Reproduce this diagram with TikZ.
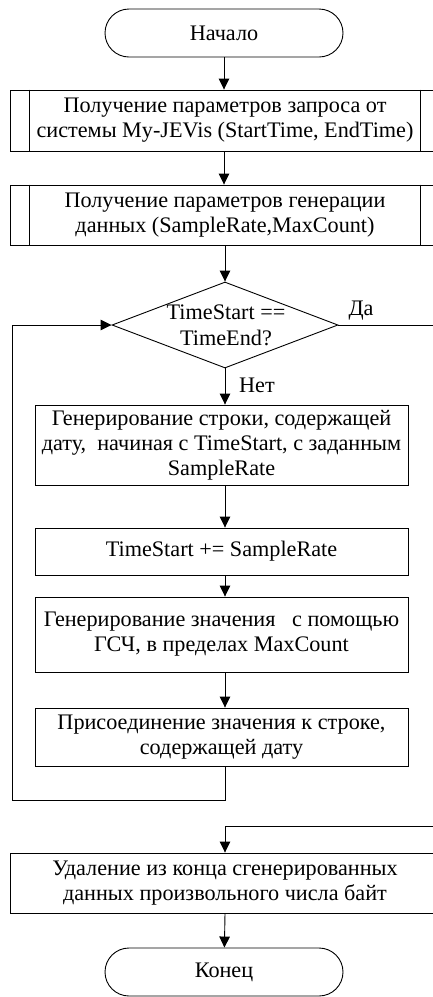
\documentclass[tikz,border=0pt]{standalone}
\usepackage{fontspec}
\setmainfont{Liberation Serif}
\usetikzlibrary{shapes.geometric, arrows.meta}

\begin{document}
\begin{tikzpicture}[x=1pt, y=-1pt, line width=0.9pt,
    font=\fontsize{22.2}{25}\selectfont,
    arr/.style={-{Triangle[length=11pt,width=10.5pt]}},
    term/.style={draw, rounded corners=24pt, minimum width=238pt, minimum height=48pt},
    proc/.style={draw, align=center, inner sep=0pt, minimum width=373pt},
    sub/.style={draw, align=center, inner sep=0pt, minimum width=430pt},
    cond/.style={draw, diamond, inner sep=0pt, minimum width=226pt, minimum height=86pt}]
\clip (0,0) rectangle (433,997);

% start and input
\node[term] (start) at (224,33) {Начало};
\node[sub, minimum height=61pt] (b1) at (225,120.5)
    {Получение параметров запроса от\\системы My-JEVis (StartTime, EndTime)};
\node[sub, minimum height=60pt] (b2) at (225,215)
    {Получение параметров генерации\\данных (SampleRate,MaxCount)};
\foreach \n in {b1,b2}
    \draw ([xshift=20pt]\n.north west) -- ([xshift=20pt]\n.south west)
          ([xshift=-20pt]\n.north east) -- ([xshift=-20pt]\n.south east);

% loop
\node[cond] (cmp) at (225,325) {};
\node[align=center] (cmptext) at (226,325.5) {TimeStart ==\\[1pt]TimeEnd?};
\node[proc, minimum height=80pt] (b3) at (221.5,445)
    {Генерирование строки, содержащей\\дату,\ \ начиная с TimeStart, с заданным\\SampleRate};
\node[proc, minimum height=47pt] (b4) at (221.5,551.5) {TimeStart += SampleRate};
\node[proc, minimum height=75pt] (b5) at (221.5,634.5)
    {Генерирование значения\ \ \ с помощью\\ГСЧ, в пределах MaxCount};
\node[proc, minimum height=58pt] (b6) at (221.5,737)
    {Присоединение значения к строке,\\содержащей дату};

% output
\node[sub, minimum height=60pt] (b7) at (225,883)
    {Удаление из конца сгенерированных\\данных произвольного числа байт};
\node[term] (stop) at (224,972) {Конец};

\node (yes) at (361,311) {Да};
\node (no) at (257,385) {Нет};
\coordinate (outyes) at (433,325);
\coordinate (inyes) at (433,826);
\coordinate (back) at (12,800);

\draw[arr] (start) -- (b1.north -| start);
\draw[arr] (b1.south -| start) -- (b2.north -| start);
\draw[arr] (b2.south -| cmp) -- (cmp.north);
\draw[arr] (cmp.south) -- (b3.north -| cmp);
\draw[arr] (b3.south -| cmp) -- (b4.north -| cmp);
\draw[arr] (b4.south -| cmp) -- (b5.north -| cmp);
\draw[arr] (b5.south -| cmp) -- (b6.north -| cmp);
\draw[arr] (b6.south -| cmp) |- (back) |- (cmp.west);
\draw (cmp.east) -- (outyes);
\draw[arr] (inyes) -| (b7.north -| cmp);
\draw[arr] (b7.south -| cmp) -- (stop);
\end{tikzpicture}
\end{document}
